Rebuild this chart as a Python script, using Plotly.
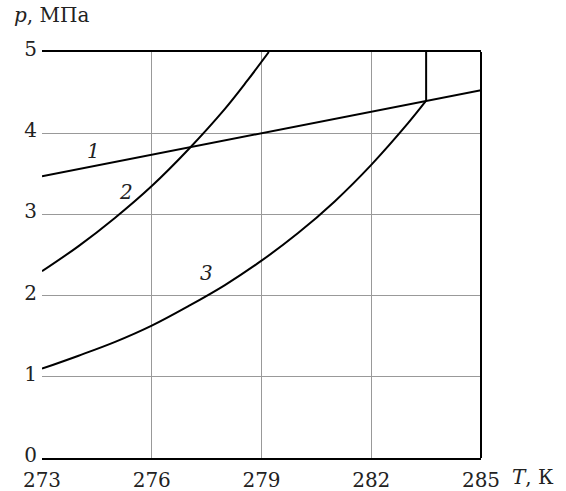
import plotly.graph_objects as go

# Line 1 (straight)
t1 = [273, 285]
p1 = [3.47, 4.53]
# Curve 2
t2 = [273, 274, 275, 276, 277, 278, 278.6, 279.2]
p2 = [2.30, 2.61, 2.96, 3.35, 3.80, 4.30, 4.64, 5.00]
# Curve 3 (ends at intersection with line 1)
t3 = [273, 274, 275, 276, 277, 278, 279, 280, 281, 282, 283, 283.5]
p3 = [1.10, 1.26, 1.43, 1.63, 1.87, 2.13, 2.43, 2.77, 3.16, 3.61, 4.12, 4.40]
# Vertical segment from the intersection point
t4 = [283.5, 283.5]
p4 = [4.40, 5.00]

labels = ["1", "2", "3"]
label_t = [274.4, 275.3, 277.5]
label_p = [3.78, 3.28, 2.28]

x_ticks = [273, 276, 279, 282, 285]
y_ticks = [0, 1, 2, 3, 4, 5]

FONT = "DejaVu Serif"
TXT = "#222222"

fig = go.Figure()
for t, p, shp in [(t1, p1, "linear"), (t2, p2, "spline"), (t3, p3, "spline"), (t4, p4, "linear")]:
    fig.add_trace(go.Scatter(x=t, y=p, mode="lines", line=dict(color="black", width=2),
                             line_shape=shp, hoverinfo="skip", showlegend=False))

for s, tx, py in zip(labels, label_t, label_p):
    fig.add_annotation(x=tx, y=py, text=f"<i>{s}</i>", showarrow=False,
                       font=dict(family=FONT, size=20, color=TXT))

fig.add_annotation(xref="paper", yref="paper", x=1.066, y=0, xanchor="left", yanchor="top",
                   yshift=-5, text="<i>T</i>, К", showarrow=False,
                   font=dict(family=FONT, size=20, color=TXT))
fig.add_annotation(xref="paper", yref="paper", x=-0.068, y=1.125, xanchor="left", yanchor="top",
                   text="<i>p</i>, МПа", showarrow=False,
                   font=dict(family=FONT, size=20, color=TXT))

# right border line
fig.add_shape(type="line", xref="paper", yref="paper", x0=1, x1=1, y0=0, y1=1,
              line=dict(color="black", width=2))

fig.update_layout(
    width=566, height=491,
    margin=dict(l=42, r=85, t=52, b=33),
    paper_bgcolor="white", plot_bgcolor="white",
    xaxis=dict(range=[273, 285], tickvals=x_ticks, showgrid=True, gridcolor="#999999", gridwidth=1,
               showline=True, linecolor="black", linewidth=2, mirror=True, zeroline=False,
               automargin=False, ticks="", ticklabelstandoff=3,
               tickfont=dict(family=FONT, size=20, color=TXT)),
    yaxis=dict(range=[0, 5], tickvals=y_ticks, showgrid=True, gridcolor="#999999", gridwidth=1,
               showline=False, zeroline=False, automargin=False, ticks="", ticklabelstandoff=4,
               ticklabelshift=-3, tickfont=dict(family=FONT, size=20, color=TXT)),
)

fig.write_html("out.html")
